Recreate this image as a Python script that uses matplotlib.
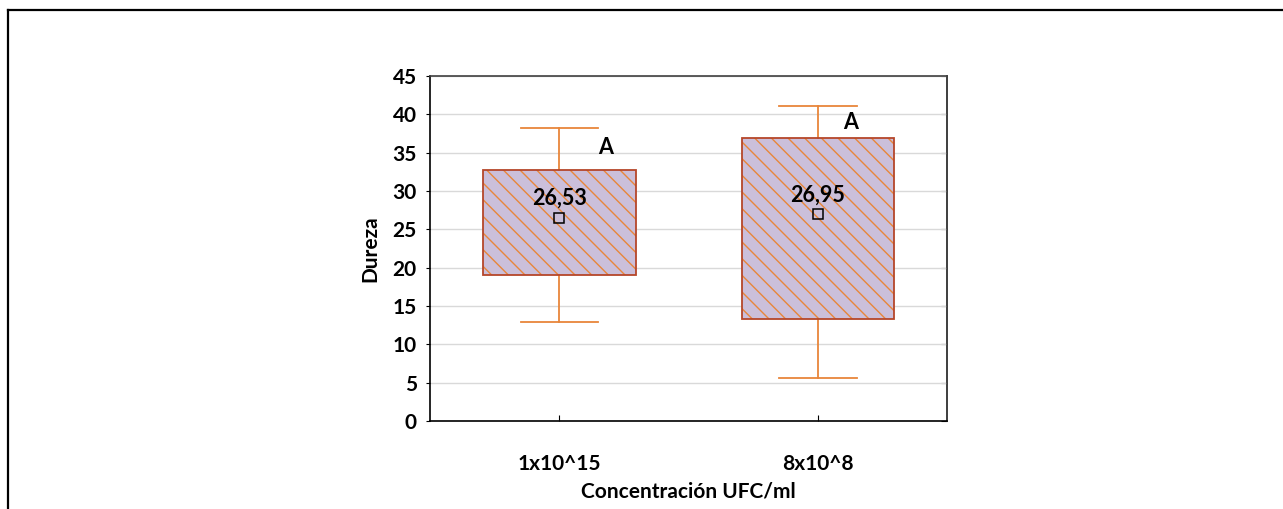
import matplotlib.pyplot as plt
from matplotlib.lines import Line2D
from matplotlib.patches import PathPatch

plt.rcParams['font.family'] = ['Lato', 'DejaVu Sans']
plt.rcParams['font.weight'] = 'bold'
plt.rcParams['hatch.linewidth'] = 1.0

# Summary statistics per concentration
groups = ['1x10^15', '8x10^8']
means = [26.53, 26.95]
q1 = [19.0, 13.3]
q3 = [32.7, 36.9]
lows = [12.9, 5.6]
highs = [38.2, 41.1]
letters = ['A', 'A']

fig = plt.figure(figsize=(12.83, 5.09), dpi=100)
ax = fig.add_axes([0.3352, 0.1729, 0.4029, 0.6778])

stats = []
for i in range(len(groups)):
    stats.append({
        'label': groups[i],
        'mean': means[i],
        'med': means[i],
        'q1': q1[i],
        'q3': q3[i],
        'whislo': lows[i],
        'whishi': highs[i],
        'fliers': [],
    })

orange = '#e8863a'
brown = '#b5462a'
bp = ax.bxp(stats, positions=[0, 1], widths=0.59, patch_artist=True,
            showmeans=True, showfliers=False,
            boxprops=dict(facecolor='#cbbfda', edgecolor=orange, linewidth=0,
                          hatch='\\\\'),
            whiskerprops=dict(color=orange, linewidth=1.3),
            capprops=dict(color=orange, linewidth=1.3),
            capwidths=0.3,
            medianprops=dict(linewidth=0),
            meanprops=dict(marker='s', markerfacecolor='none',
                           markeredgecolor='black', markersize=7,
                           markeredgewidth=1.1))

# outline each box on top of the hatch
for box in bp['boxes']:
    ax.add_patch(PathPatch(box.get_path(), facecolor='none', edgecolor=brown,
                           linewidth=1.3, zorder=box.get_zorder() + 0.1))

# mean labels and group letters
for i in range(len(groups)):
    ax.annotate(f'{means[i]:.2f}'.replace('.', ','), (i, means[i]),
                xytext=(0, 14), textcoords='offset points',
                ha='center', va='center', fontsize=15.5, fontweight='bold')
letter_offsets = [(46, 23), (33, 16)]
for i in range(len(groups)):
    ax.annotate(letters[i], (i, q3[i]), xytext=letter_offsets[i],
                textcoords='offset pixels', ha='center', va='center',
                fontsize=15.5, fontweight='bold')

ax.set_xlim(-0.5, 1.5)
ax.set_ylim(0, 45)
ax.set_yticks(range(0, 46, 5))
ax.set_xticks([0, 1])
ax.set_xticklabels(groups)
ax.yaxis.grid(True, color='#d9d9d9', linewidth=1)
ax.set_axisbelow(True)

ax.tick_params(axis='y', direction='out', length=3, labelsize=15, pad=6.5)
ax.tick_params(axis='x', direction='in', length=4, labelsize=15, pad=24)
for lab in ax.get_xticklabels() + ax.get_yticklabels():
    lab.set_fontweight('bold')

# inward ticks on the right edge
right = ax.secondary_yaxis('right')
right.set_yticks(range(0, 46, 5))
right.tick_params(direction='in', length=4, labelright=False)
right.spines['right'].set_color('#303030')
right.spines['right'].set_linewidth(1.2)

ax.spines['left'].set_color('black')
ax.spines['bottom'].set_color('black')
ax.spines['top'].set_color('#404040')
ax.spines['right'].set_color('#404040')
for sp in ax.spines.values():
    sp.set_linewidth(1.2)

ax.set_ylabel('Dureza', fontsize=15, fontweight='bold', labelpad=9)
ax.set_xlabel('Concentración UFC/ml', fontsize=15, fontweight='bold',
              labelpad=5)

# outer frame (top and left edges)
fig.add_artist(Line2D([7.5 / 1283, 1], [1 - 10 / 509, 1 - 10 / 509],
                      color='black', linewidth=1.6, transform=fig.transFigure))
fig.add_artist(Line2D([7.5 / 1283, 7.5 / 1283], [0, 1 - 10 / 509],
                      color='black', linewidth=1.6, transform=fig.transFigure))

fig.savefig('out.png', dpi=100)
